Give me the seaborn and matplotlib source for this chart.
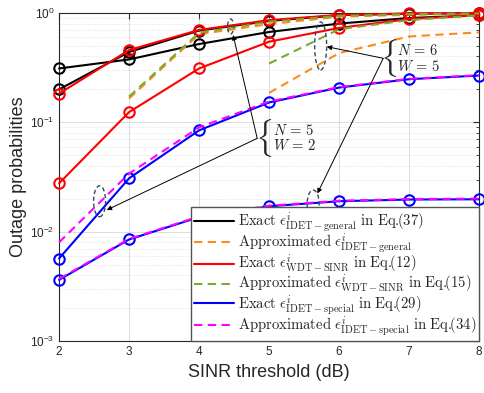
import numpy as np
import pandas as pd
import matplotlib
matplotlib.use("Agg")
import matplotlib.pyplot as plt
import matplotlib.transforms as mtransforms
import seaborn as sns
from matplotlib.lines import Line2D
from matplotlib.patches import Ellipse
from matplotlib.ticker import LogLocator, NullFormatter

nan = np.nan
sinr_db = [2, 3, 4, 5, 6, 7, 8]

# Exact IDET-general, Eq.(37)
idet_general_exact_n5w2 = [0.20, 0.44, 0.69, 0.845, 0.955, 0.985, 0.995]
idet_general_exact_n6w5 = [0.311, 0.376, 0.52, 0.67, 0.80, 0.90, 0.95]
# Approximated IDET-general
idet_general_approx_n5w2 = [nan, 0.165, 0.64, 0.79, 0.925, 0.96, 0.985]
idet_general_approx_n6w5 = [nan, nan, nan, 0.186, 0.43, 0.61, 0.665]
# Exact WDT-SINR, Eq.(12)
wdt_exact_n5w2 = [0.183, 0.458, 0.70, 0.86, 0.96, 0.99, 0.997]
wdt_exact_n6w5 = [0.0277, 0.124, 0.311, 0.546, 0.73, 0.88, 0.955]
# Approximated WDT-SINR, Eq.(15)
wdt_approx_n5w2 = [nan, 0.172, 0.66, 0.83, 0.94, 0.975, 0.99]
wdt_approx_n6w5 = [nan, nan, nan, 0.345, 0.71, 0.86, 0.95]
# Exact IDET-special, Eq.(29)
special_exact_n5w2 = [0.00569, 0.0308, 0.0845, 0.152, 0.208, 0.248, 0.268]
special_exact_n6w5 = [0.00363, 0.0085, 0.0136, 0.0171, 0.019, 0.0197, 0.0198]
# Approximated IDET-special, Eq.(34)
special_approx_n5w2 = [0.0080, 0.034, 0.090, 0.155, 0.21, 0.25, 0.27]
special_approx_n6w5 = [0.0037, 0.0086, 0.0138, 0.0173, 0.0192, 0.0199, 0.0201]

labels = [
    r"$\mathrm{Exact}\ \epsilon^{i}_{\mathrm{IDET-general}}\ \mathrm{in\ Eq.}\!\!(37)$",
    r"$\mathrm{Approximated}\ \epsilon^{i}_{\mathrm{IDET-general}}$",
    r"$\mathrm{Exact}\ \epsilon^{i}_{\mathrm{WDT-SINR}}\ \mathrm{in\ Eq.}\!\!(12)$",
    r"$\mathrm{Approximated}\ \epsilon^{i}_{\mathrm{WDT-SINR}}\ \mathrm{in\ Eq.}\!\!(15)$",
    r"$\mathrm{Exact}\ \epsilon^{i}_{\mathrm{IDET-special}}\ \mathrm{in\ Eq.}\!\!(29)$",
    r"$\mathrm{Approximated}\ \epsilon^{i}_{\mathrm{IDET-special}}\ \mathrm{in\ Eq.}\!\!(34)$",
]
colors = ["#000000", "#FF8C1A", "#FF0000", "#77AC30", "#0000FF", "#FF00FF"]
solid = [True, False, True, False, True, False]
curves = [
    (idet_general_exact_n5w2, idet_general_exact_n6w5),
    (idet_general_approx_n5w2, idet_general_approx_n6w5),
    (wdt_exact_n5w2, wdt_exact_n6w5),
    (wdt_approx_n5w2, wdt_approx_n6w5),
    (special_exact_n5w2, special_exact_n6w5),
    (special_approx_n5w2, special_approx_n6w5),
]

rows = []
for k, pair in enumerate(curves):
    for cfg, vals in zip(["N=5,W=2", "N=6,W=5"], pair):
        for x, v in zip(sinr_db, vals):
            rows.append({"sinr": x, "prob": v, "curve": k, "config": cfg})
df = pd.DataFrame(rows).dropna()

sns.set_style("white")
plt.rcParams["mathtext.fontset"] = "cm"
plt.rcParams["font.family"] = ["Liberation Sans", "DejaVu Sans"]

fig = plt.figure(figsize=(4.84, 3.93), dpi=100)
ax = fig.add_axes([0.122, 0.132, 0.868, 0.835])

for k in range(len(curves)):
    for cfg in ["N=5,W=2", "N=6,W=5"]:
        sub = df[(df.curve == k) & (df.config == cfg)]
        kw = dict(color=colors[k], lw=1.5, ax=ax, legend=False, clip_on=False)
        if solid[k]:
            sns.lineplot(data=sub, x="sinr", y="prob", marker="o", ms=7.5,
                         markerfacecolor="none", markeredgecolor=colors[k],
                         markeredgewidth=1.5, zorder=3 + k, **kw)
        else:
            sns.lineplot(data=sub, x="sinr", y="prob", dashes=False,
                         linestyle=(0, (4, 2.6)), zorder=3 + k, **kw)

ax.set_yscale("log")
ax.set_xlim(2, 8)
ax.set_ylim(1e-3, 1)
ax.set_xticks(sinr_db)
ax.yaxis.set_major_locator(LogLocator(base=10, numticks=10))
ax.yaxis.set_minor_locator(LogLocator(base=10, subs=np.arange(2, 10), numticks=20))
ax.yaxis.set_minor_formatter(NullFormatter())
ax.tick_params(which="both", direction="in", top=True, right=True,
               labelsize=8.5, colors="#262626")
ax.tick_params(which="major", length=4)
ax.tick_params(which="minor", length=2)
ax.grid(True, which="major", color="#dcdcdc", lw=0.7)
ax.grid(True, which="minor", axis="y", color="#dcdcdc", lw=0.6, ls=":")
ax.set_axisbelow(True)
for s in ax.spines.values():
    s.set_color("#262626")
    s.set_linewidth(0.8)
ax.set_xlabel("SINR threshold (dB)", fontsize=13, labelpad=4)
ax.set_ylabel("Outage probabilities", fontsize=13, labelpad=2)

# dashed ellipses grouping curves of one configuration (sizes in inches)
def ring(x, y, w, h):
    tr = fig.dpi_scale_trans + mtransforms.ScaledTranslation(x, y, ax.transData)
    ax.add_patch(Ellipse((0, 0), w, h, transform=tr, fill=False,
                         ec="#2F4A66", lw=1.0, ls=(0, (3, 2)), zorder=12))

ring(4.45, 0.752, 0.06, 0.15)
ring(5.736, 0.499, 0.12, 0.48)
ring(2.579, 0.019, 0.12, 0.31)
ring(5.629, 0.0181, 0.12, 0.27)

def pointer(start, end):
    ax.annotate("", xy=end, xytext=start,
                arrowprops=dict(arrowstyle="-|>", color="black", lw=0.7,
                                mutation_scale=7, shrinkA=0, shrinkB=0),
                zorder=13)

pointer((4.83, 0.0714), (4.486, 0.629))
pointer((4.83, 0.0714), (2.681, 0.0158))
pointer((6.63, 0.385), (5.824, 0.492))
pointer((6.63, 0.385), (5.69, 0.0224))

ax.text(4.80, 0.0717, r"$\{$", fontsize=23, ha="left", va="center", zorder=14)
ax.text(5.05, 0.0717, "$N\\,=\\,5$\n$W\\,=\\,2$", fontsize=10.5, ha="left",
        va="center", linespacing=1.05, zorder=14)
ax.text(6.58, 0.384, r"$\{$", fontsize=23, ha="left", va="center", zorder=14)
ax.text(6.83, 0.384, "$N\\,=\\,6$\n$W\\,=\\,5$", fontsize=10.5, ha="left",
        va="center", linespacing=1.05, zorder=14)

handles = [Line2D([], [], color=c, lw=1.5, ls="-" if s else (0, (4, 2.6)))
           for c, s in zip(colors, solid)]
leg = ax.legend(handles, labels, loc="lower right", borderaxespad=0,
                fontsize=10.6, handlelength=2.7, handletextpad=0.28,
                borderpad=0.2, labelspacing=-0.15, fancybox=False,
                framealpha=1, edgecolor="#555555")
leg.get_frame().set_linewidth(1.0)
leg.set_zorder(20)

fig.savefig("out.png", dpi=100)
